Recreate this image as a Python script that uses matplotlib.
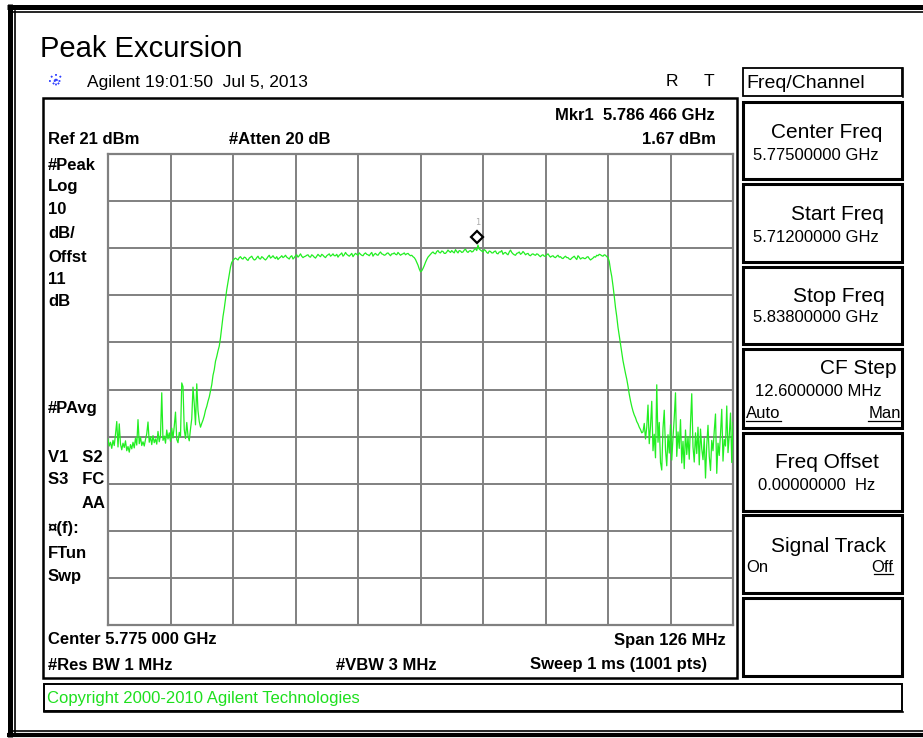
# Agilent spectrum analyzer screen: Peak Excursion

import numpy as np
import matplotlib
matplotlib.use("Agg")
import matplotlib.pyplot as plt
from matplotlib.patches import Rectangle
from matplotlib.transforms import ScaledTranslation

# sweep settings
start_ghz = 5.712
stop_ghz = 5.838
ref_dbm = 21.0
db_per_div = 10.0

# trace (dBm), every 2nd of the 1001 sweep points
noise_left = [-39.5, -41.0, -40.2, -41.5, -39.8, -40.9, -38.5, -35.8, -41.2, -36.3,
              -40.6, -41.8, -40.4, -41.3, -39.9, -42.0, -41.1, -42.3, -40.7, -41.6,
              -40.2, -41.4, -39.3, -40.8, -35.4, -40.5, -39.1, -40.9, -40.1, -41.0,
              -39.6, -38.4, -35.9, -40.2, -39.0, -40.7, -38.8, -40.3, -39.5, -40.6,
              -37.9, -40.1, -38.7, -29.7, -39.8, -38.9, -40.4, -37.6, -39.5, -38.2,
              -40.0, -37.2, -39.3, -36.8, -33.8, -39.6, -40.3, -38.1, -39.0, -27.6,
              -28.4, -37.5, -39.4, -36.0, -38.8, -39.9, -37.4, -35.2, -28.5, -32.0,
              -36.5, -27.8, -33.5, -35.8]
rise = [-37.0, -36.2, -35.5, -34.6, -33.4, -32.6, -31.5, -30.6, -29.3, -28.0,
        -26.0, -24.8, -23.0, -22.0, -20.8, -19.8, -18.0, -15.8, -13.5, -11.8,
        -9.8, -7.8, -6.2, -4.5, -3.0, -2.0]
plateau = [-1.6, -1.3,
           -1.1, -1.3, -1.5, -1.0, -0.8, -1.2, -1.3, -0.9, -1.0, -1.4,
           -1.6, -1.1, -0.9, -0.7, -1.2, -1.5, -1.4, -1.0, -0.7, -1.2,
           -1.3, -0.8, -1.0, -1.3, -1.5, -1.2, -0.8, -0.5, -1.1, -0.9,
           -0.6, -1.0, -1.2, -0.8, -1.4, -1.1, -0.9, -0.6, -1.0, -0.8,
           -0.5, -0.9, -1.1, -1.3, -0.8, -0.6, -1.3, -1.0, -0.6, -0.4,
           -0.9, -0.6, -0.2, -0.7, -1.0, -0.8, -0.7, -0.5, -0.4, -0.8,
           -0.9, -0.4, -0.6, -0.9, -1.1, -0.7, -0.3, -0.6, -0.8, -0.3,
           -0.5, -0.8, -1.0, -0.6, -0.4, -0.2, -0.7, -0.5, -0.2, -0.6,
           -0.6, -0.3, -0.9, -0.5, -0.3, 0.0, -0.7, -0.4, 0.1, -0.3,
           -0.5, -0.7, -0.4, -0.1, -0.8, -0.4, -0.1, -0.3, -0.5, 0.0,
           -0.3, -0.5, -0.6, -0.2, 0.0, -0.3, -0.4, -0.6, -0.2, 0.1,
           -0.7, -0.3, -0.1, -0.4, -0.5, -0.1, 0.2, -0.2, -0.3, -0.5,
           -0.4, -0.1, 0.0, -0.3, -0.6, -0.2, -0.2, 0.0, -0.3, -0.4,
           0.1, -0.2, -0.5, -0.3, -0.2, 0.0, -0.4, -0.2, -0.1, -0.4,
           -0.6, -0.5, -0.8, -1.0,
           -1.4, -2.0, -2.6, -3.4, -4.0, -3.8, -3.3, -2.7, -2.0, -1.4,
           -0.9, -0.6, -0.3, 0.0, 0.2, -0.1, -0.2, 0.3, 0.5, 0.1,
           0.0, 0.4, 0.3, -0.1, -0.1, 0.2, 0.6, 0.3, 0.1, 0.5,
           0.2, 0.0, 0.7, 0.3, 0.0, 0.5, 0.4, 0.1, 0.2, 0.6,
           0.8, 0.3, 0.1, 0.4, 0.5, 0.2, 0.3, 0.7, 0.9, 0.5,
           1.67, 0.8,
           0.6, 0.4, 0.2, 0.7, 0.5, 0.1, -0.1, 0.4, 0.3, 0.0,
           0.0, 0.3, 0.4, -0.1, -0.2, 0.2, 0.2, 0.5, -0.3, 0.0,
           0.1, -0.2, -0.4, 0.2, 0.6, 0.1, -0.2, -0.4, -0.5, -0.1,
           0.0, 0.2, -0.3, -0.1, 0.3, 0.0, -0.4, -0.2, -0.1, -0.5,
           -0.6, -0.3, -0.2, -0.4, -0.5, -0.2, -0.3, -0.6, -0.8, -0.5,
           -0.4, -0.7, -0.7, -0.4, -0.2, -0.6, -0.9, -0.7, -0.6, -0.9,
           -1.0, -0.7, -0.5, -0.9, -0.8, -1.1, -1.2, -0.9, -0.7, -1.0,
           -1.0, -1.3, -1.4, -1.1, -0.9, -0.7, -1.1, -1.4, -0.6, -0.9,
           -1.3, -1.1, -1.0, -1.2, -1.2, -0.9, -0.8, -1.2, -1.5, -1.3,
           -1.1, -0.8, -0.9, -0.5, -0.6, -0.3, -0.4, -0.6, -0.7, -0.4,
           -0.5, -0.8, -1.0, -1.8]
fall = [-3.6, -5.0, -7.0, -9.2, -11.6, -13.5, -15.8, -17.6, -19.5, -21.2,
        -22.9, -24.3, -25.6, -26.8, -28.3, -30.0, -31.4, -32.6, -33.6, -34.4,
        -35.0, -35.8, -36.3, -37.0, -37.5, -38.2]
noise_right = [-38.0, -36.2, -39.5, -37.0, -32.3, -40.5, -36.8, -31.5, -42.0, -38.5,
               -43.5, -28.0, -40.2, -36.0, -44.5, -46.1, -37.2, -33.4, -41.8, -45.2,
               -38.6, -42.5, -36.5, -44.0, -39.2, -35.0, -29.7, -43.2, -38.0, -41.5,
               -35.4, -44.6, -40.0, -45.8, -37.6, -42.8, -39.0, -43.8, -36.2, -29.9,
               -41.2, -44.4, -38.2, -42.6, -37.0, -45.0, -37.4, -41.6, -43.9, -39.4,
               -47.8, -40.8, -36.6, -43.2, -46.2, -39.8, -42.0, -37.8, -34.2, -46.8,
               -40.4, -43.0, -38.4, -33.2, -44.2, -39.6, -41.0, -32.5, -42.4, -38.8,
               -34.0, -44.5, -36.0]

trace_dbm = noise_left + rise + plateau + fall + noise_right
trace_ghz = np.linspace(start_ghz, stop_ghz, len(trace_dbm))

mkr_ghz = 5.786466
mkr_dbm = 1.67

W, H = 923, 738
fig = plt.figure(figsize=(W / 100, H / 100), dpi=100)
fig.patch.set_facecolor("white")

# background axes in pixel units for the frame, boxes and labels
bg = fig.add_axes([0, 0, 1, 1])
bg.set_xlim(0, W)
bg.set_ylim(H, 0)
bg.axis("off")

# outer double border
bg.plot([7, W], [6.5, 6.5], color="black", lw=3.6, solid_capstyle="butt")
bg.plot([13, W], [12, 12], color="black", lw=1.2)
bg.plot([9.5, 9.5], [4, 737], color="black", lw=3.6, solid_capstyle="butt")
bg.plot([14.5, 14.5], [11, 733], color="black", lw=1.2)
bg.plot([13, W], [730.5, 730.5], color="black", lw=1.2)
bg.plot([7, W], [735, 735], color="black", lw=3.0, solid_capstyle="butt")


def box(x0, y0, x1, y1, lw=2.0):
    bg.add_patch(Rectangle((x0, y0), x1 - x0, y1 - y0, fill=False,
                           edgecolor="black", lw=lw))


# screen and copyright boxes
box(43, 98, 737, 678, lw=1.8)
box(44, 684, 902, 711, lw=1.4)
bg.plot([44, 903], [712, 712], color="black", lw=1.2)

# soft-key panel
box(743, 68, 902, 96, lw=1.3)
bg.plot([902.5, 902.5], [68, 97], color="black", lw=1.2)
for y0, y1 in [(102, 179), (184, 262), (267, 344), (349, 428),
               (433, 511), (515, 593), (598, 676)]:
    box(743, y0, 902, y1, lw=2.2)

# title and header
bg.text(40, 49, "Peak Excursion", fontsize=21, family="Liberation Sans", va="center")
bg.text(87, 82, "Agilent 19:01:50  Jul 5, 2013", fontsize=12.5,
        family="Liberation Sans", va="center")
bg.text(666, 82, "R", fontsize=12.5, family="Liberation Sans", va="center")
bg.text(704, 82, "T", fontsize=12.5, family="Liberation Sans", va="center")
for ang in np.arange(0, 180, 45):
    dx, dy = 7 * np.cos(np.radians(ang)), 7 * np.sin(np.radians(ang))
    bg.plot([56 - dx, 56 + dx], [81 - dy, 81 + dy], color="#3040ff", lw=1.3, ls=":")

bold = dict(family="Liberation Sans", fontweight="bold", fontsize=12, va="center")
bg.text(715, 116, "Mkr1  5.786 466 GHz", ha="right", **bold)
bg.text(716, 140, "1.67 dBm", ha="right", **bold)
bg.text(48, 140, "Ref 21 dBm", **bold)
bg.text(229, 140, "#Atten 20 dB", **bold)

side_labels = [("#Peak", 165), ("Log", 187), ("10", 210), ("dB/", 233),
               ("Offst", 257), ("11", 279), ("dB", 302), ("#PAvg", 408),
               ("V1   S2", 457), ("S3   FC", 480), ("¤(f):", 529),
               ("FTun", 553), ("Swp", 577)]
for txt, y in side_labels:
    bg.text(48, y, txt, **bold)
bg.text(106, 504, "AA", ha="right", **bold)

bg.text(48, 640, "Center 5.775 000 GHz", **bold)
bg.text(726, 640, "Span 126 MHz", ha="right", **bold)
bg.text(48, 665, "#Res BW 1 MHz", **bold)
bg.text(336, 665, "#VBW 3 MHz", **bold)
bg.text(707, 665, "Sweep 1 ms (1001 pts)", ha="right", **bold)

bg.text(47, 698, "Copyright 2000-2010 Agilent Technologies", fontsize=12,
        family="Liberation Sans", color="#1ee01e", va="center")

# soft-key texts
reg = dict(family="Liberation Sans", va="center")
bg.text(746, 83, "Freq/Channel", fontsize=14, **reg)
keys = [("Center Freq", 882, 132, "5.77500000 GHz", 753, 155),
        ("Start Freq", 884, 214, "5.71200000 GHz", 753, 238),
        ("Stop Freq", 885, 296, "5.83800000 GHz", 753, 318),
        ("CF Step", 896, 368, "12.6000000 MHz", 755, 392),
        ("Freq Offset", 879, 463, "0.00000000  Hz", 758, 485)]
for lab, lx, ly, val, vx, vy in keys:
    bg.text(lx, ly, lab, fontsize=15, ha="right", **reg)
    bg.text(vx, vy, val, fontsize=12, **reg)
bg.text(886, 546, "Signal Track", fontsize=15, ha="right", **reg)
bg.text(746, 414, "Auto", fontsize=12, **reg)
bg.text(901, 414, "Man", fontsize=12, ha="right", **reg)
bg.text(746, 567, "On", fontsize=12, **reg)
bg.text(893, 567, "Off", fontsize=12, ha="right", **reg)
for x0, x1, y in [(746, 781, 421), (868, 901, 421), (874, 893, 574)]:
    bg.plot([x0, x1], [y, y], color="black", lw=0.9)

# graticule / trace axes
gx0, gx1, gy0, gy1 = 108, 733, 154, 625
ax = fig.add_axes([gx0 / W, 1 - gy1 / H, (gx1 - gx0) / W, (gy1 - gy0) / H])
ax.set_facecolor("white")
ax.set_xlim(start_ghz, stop_ghz)
ax.set_ylim(ref_dbm - 10 * db_per_div, ref_dbm)
ax.set_xticks(np.linspace(start_ghz, stop_ghz, 11))
ax.set_yticks(np.linspace(ref_dbm - 10 * db_per_div, ref_dbm, 11))
ax.tick_params(length=0, labelbottom=False, labelleft=False)
ax.grid(True, color="#808080", lw=1.4)
for sp in ax.spines.values():
    sp.set_color("#808080")
    sp.set_linewidth(1.6)

ax.plot(trace_ghz, trace_dbm, color="#22ee22", lw=0.9, zorder=3)

# marker 1 drawn just above the trace point
up = ScaledTranslation(0, 0.08, fig.dpi_scale_trans)
ax.plot([mkr_ghz], [mkr_dbm], marker="D", ms=6, mfc="white", mec="black",
        mew=1.6, transform=ax.transData + up, zorder=4)
ax.text(mkr_ghz, mkr_dbm, "1", fontsize=6, color="#aaaaaa", ha="center",
        va="center", transform=ax.transData + ScaledTranslation(0, 0.23, fig.dpi_scale_trans))

fig.savefig("out.png", dpi=100)
